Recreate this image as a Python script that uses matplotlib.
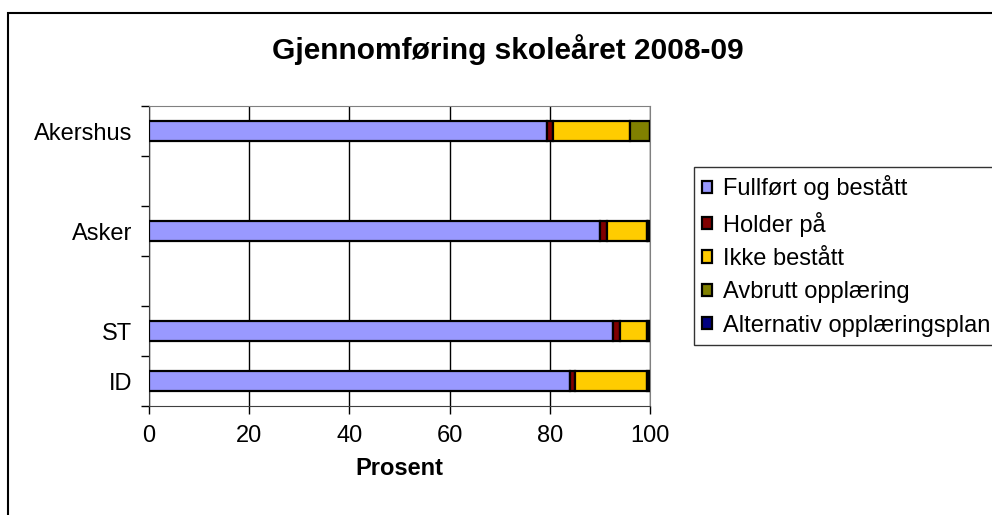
"""Stacked horizontal bar chart: Gjennomføring skoleåret 2008-09."""

import matplotlib
matplotlib.use("Agg")
import matplotlib.pyplot as plt
from matplotlib.patches import Rectangle

plt.rcParams["font.family"] = ["Liberation Sans", "DejaVu Sans"]

# category slots top to bottom (blank slots are empty categories in the original)
categories = ["Akershus", "", "Asker", "", "ST", "ID"]
series_names = ["Fullført og bestått", "Holder på", "Ikke bestått",
                "Avbrutt opplæring", "Alternativ opplæringsplan"]
fullfort = [79.4, None, 90.1, None, 92.6, 84.1]
holder = [1.2, None, 1.3, None, 1.5, 0.9]
ikke = [15.5, None, 8.0, None, 5.4, 14.5]
avbrutt = [3.9, None, 0.3, None, 0.3, 0.3]
alternativ = [0.0, None, 0.3, None, 0.2, 0.2]
colors = ["#9999FF", "#800000", "#FFCC00", "#808000", "#000080"]
xticks = [0, 20, 40, 60, 80, 100]

W, H = 992, 515
FS = 17
fig = plt.figure(figsize=(W / 100, H / 100), dpi=100)
ax = fig.add_axes([149 / W, 1 - 406 / H, (650 - 149) / W, (406 - 106) / H])

series = [fullfort, holder, ikke, avbrutt, alternativ]
ys = [i for i, c in enumerate(categories) if c]
left = [0.0] * len(ys)
for name, vals, col in zip(series_names, series, colors):
    v = [vals[i] for i in ys]
    ax.barh(ys, v, left=left, height=0.41, color=col, edgecolor="black",
            linewidth=1.6, label=name, zorder=3)
    left = [a + b for a, b in zip(left, v)]

ax.set_xlim(0, 100)
ax.set_ylim(len(categories) - 0.5, -0.5)
ax.set_xticks(xticks)
ax.set_xticklabels([str(t) for t in xticks], fontsize=FS)
ax.set_yticks(ys)
ax.set_yticklabels([categories[i] for i in ys], fontsize=FS)
ax.set_yticks([i - 0.5 for i in range(len(categories) + 1)], minor=True)
ax.tick_params(axis="y", which="major", length=0, pad=12)
ax.tick_params(axis="y", which="minor", length=6, width=1, color="black")
ax.tick_params(axis="x", length=6, width=1, pad=8)
ax.grid(axis="x", color="black", linewidth=1, zorder=0)
for s in ["top", "right"]:
    ax.spines[s].set_color("#808080")
for s in ["left", "bottom"]:
    ax.spines[s].set_color("#404040")
ax.set_xlabel("Prosent", fontsize=FS, fontweight="bold", labelpad=7)

fig.text(508 / W, 1 - 50 / H, "Gjennomføring skoleåret 2008-09", ha="center",
         va="center", fontsize=21.5, fontweight="bold")

leg = fig.legend(loc="upper left", bbox_to_anchor=(694 / W, 1 - 167 / H),
                 fontsize=FS, frameon=True, fancybox=False, edgecolor="black",
                 handlelength=0.42, handleheight=0.42, handletextpad=0.45,
                 labelspacing=0.48, borderpad=0.35, borderaxespad=0)
leg.get_frame().set_linewidth(1)
for h in leg.legend_handles:
    h.set_linewidth(1.6)

# chart area border (cropped on right and bottom in the original)
fig.patches.append(Rectangle((8 / W, -0.1), 2, 1 - 13 / H + 0.1,
                             transform=fig.transFigure, fill=False,
                             edgecolor="black", linewidth=1.5))

fig.savefig("out.png", dpi=100)
